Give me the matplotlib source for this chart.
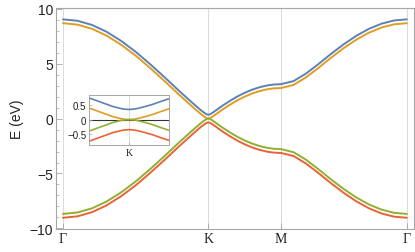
import numpy as np
import matplotlib
matplotlib.use('Agg')
import matplotlib.pyplot as plt
from matplotlib.ticker import MultipleLocator

# ── данные: зоны вдоль пути Γ-K-M-Γ (длина ΓK = 1) ─────────────────────────
k_path = [0.0, 0.1, 0.2, 0.3, 0.4, 0.5, 0.6, 0.7, 0.8, 0.9, 0.95, 0.975, 0.99, 1.0,
          1.01, 1.025, 1.05, 1.1, 1.15, 1.2, 1.25, 1.3, 1.35, 1.4, 1.45, 1.5,
          1.587, 1.673, 1.76, 1.846, 1.933, 2.02, 2.106, 2.193, 2.279, 2.366]

band_blue = [9.03, 8.90, 8.52, 7.90, 7.07, 6.08, 4.95, 3.75, 2.51, 1.32, 0.75, 0.50, 0.38, 0.35,
             0.38, 0.49, 0.72, 1.19, 1.62, 2.01, 2.34, 2.62, 2.84, 3.00, 3.10, 3.13,
             3.41, 4.10, 4.98, 5.90, 6.77, 7.54, 8.17, 8.64, 8.93, 9.03]
band_orange = [8.68, 8.55, 8.17, 7.55, 6.72, 5.73, 4.60, 3.40, 2.16, 0.97, 0.40, 0.15, 0.03, 0.00,
               0.03, 0.14, 0.37, 0.84, 1.27, 1.66, 1.99, 2.27, 2.49, 2.65, 2.75, 2.78,
               3.06, 3.75, 4.63, 5.55, 6.42, 7.19, 7.82, 8.29, 8.58, 8.68]
band_green = [-8.68, -8.55, -8.17, -7.55, -6.72, -5.73, -4.60, -3.40, -2.16, -0.97, -0.40, -0.15, -0.03, 0.00,
              -0.03, -0.14, -0.37, -0.84, -1.27, -1.66, -1.99, -2.27, -2.49, -2.65, -2.75, -2.78,
              -3.06, -3.75, -4.63, -5.55, -6.42, -7.19, -7.82, -8.29, -8.58, -8.68]
band_red = [-9.03, -8.90, -8.52, -7.90, -7.07, -6.08, -4.95, -3.75, -2.51, -1.32, -0.75, -0.50, -0.38, -0.35,
            -0.38, -0.49, -0.72, -1.19, -1.62, -2.01, -2.34, -2.62, -2.84, -3.00, -3.10, -3.13,
            -3.41, -4.10, -4.98, -5.90, -6.77, -7.54, -8.17, -8.64, -8.93, -9.03]

# вставка: окрестность точки K
k_zoom = [0.95, 0.96, 0.97, 0.98, 0.99, 0.995, 1.0, 1.005, 1.01, 1.02, 1.03, 1.04, 1.05]
zoom_blue = [0.75, 0.65, 0.55, 0.45, 0.38, 0.358, 0.35, 0.358, 0.38, 0.45, 0.53, 0.63, 0.72]
zoom_orange = [0.40, 0.30, 0.20, 0.10, 0.03, 0.008, 0.0, 0.008, 0.03, 0.10, 0.18, 0.28, 0.37]
zoom_green = [-0.40, -0.30, -0.20, -0.10, -0.03, -0.008, 0.0, -0.008, -0.03, -0.10, -0.18, -0.28, -0.37]
zoom_red = [-0.75, -0.65, -0.55, -0.45, -0.38, -0.358, -0.35, -0.358, -0.38, -0.45, -0.53, -0.63, -0.72]

sym_pos = [0.0, 1.0, 1.5, 2.366]
sym_labels = ['Γ', 'K', 'M', 'Γ']

colors = ['#5E81B5', '#E19C24', '#8FB032', '#EB6235']
frame_c = '#A6A6A6'
grid_c = '#DCDCDC'
text_c = '#222222'
sans = ['Liberation Sans', 'DejaVu Sans']
serif = ['Liberation Serif', 'DejaVu Serif']

fig = plt.figure(figsize=(4.15, 2.53), dpi=100)
ax = fig.add_axes([0.135, 0.091, 0.8626, 0.875])

for x in sym_pos:
    ax.axvline(x, color=grid_c, lw=0.8, zorder=0)

bands = [band_blue, band_orange, band_green, band_red]
for vals, c in zip(bands, colors):
    ax.plot(k_path, vals, color=c, lw=1.4, solid_capstyle='round')

ax.set_xlim(-0.048, 2.416)
ax.set_ylim(-10.05, 10.1)
ax.set_xticks(sym_pos)
ax.set_xticklabels(sym_labels, family=serif, fontsize=10, color=text_c)
ax.set_yticks([-10, -5, 0, 5, 10])
ax.set_yticklabels(['−10', '−5', '0', '5', '10'], family=sans, fontsize=10, color=text_c)
ax.yaxis.set_minor_locator(MultipleLocator(1))
ax.tick_params(axis='both', which='major', direction='in', length=4, width=0.6,
               color=frame_c, pad=2)
ax.tick_params(axis='y', which='minor', direction='in', length=2, width=0.5, color=frame_c)
ax.set_ylabel('E (eV)', family=sans, fontsize=10, color=text_c, labelpad=4)
for sp in ax.spines.values():
    sp.set_color(frame_c)
    sp.set_linewidth(0.8)

# ── вставка около K ─────────────────────────────────────────────────
axi = fig.add_axes([89 / 415, 1 - 146 / 253, 80 / 415, 50 / 253])
axi.axvline(1.0, color=grid_c, lw=0.8, zorder=0)
axi.axhline(0.0, color='#333333', lw=0.8, zorder=1)
for vals, c in zip([zoom_blue, zoom_orange, zoom_green, zoom_red], colors):
    axi.plot(k_zoom, vals, color=c, lw=1.2, zorder=2)
axi.set_xlim(0.95, 1.05)
axi.set_ylim(-0.88, 0.85)
axi.set_xticks([1.0])
axi.set_xticklabels(['K'], family=serif, fontsize=7, color=text_c)
axi.set_yticks([-0.5, 0, 0.5])
axi.set_yticklabels(['−0.5', '0', '0.5'], family=sans, fontsize=7, color=text_c)
axi.tick_params(axis='both', direction='in', length=2.5, width=0.5, color=frame_c, pad=2)
for sp in axi.spines.values():
    sp.set_color(frame_c)
    sp.set_linewidth(0.7)

fig.savefig('out.png', dpi=100)
